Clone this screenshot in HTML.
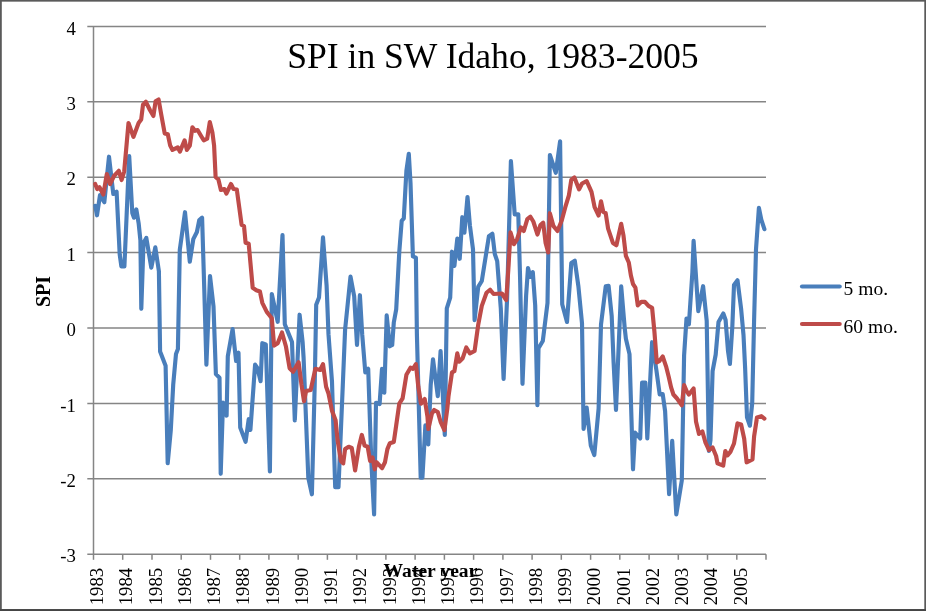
<!DOCTYPE html>
<html><head><meta charset="utf-8"><title>SPI in SW Idaho</title>
<style>
html,body{margin:0;padding:0;background:#fff;}
body{width:926px;height:611px;overflow:hidden;font-family:"Liberation Serif",serif;}
svg{display:block;font-family:"Liberation Serif",serif;}
</style></head><body>
<svg width="926" height="611" viewBox="0 0 926 611">
<defs><filter id="soft" x="0" y="0" width="926" height="611" filterUnits="userSpaceOnUse"><feGaussianBlur stdDeviation="0.45"/></filter></defs>
<rect x="0" y="0" width="926" height="611" fill="#ffffff"/>
<g filter="url(#soft)">
<rect x="0" y="0" width="926" height="611" fill="#ffffff"/>
<g stroke="#858585" stroke-width="1.5" fill="none"><line x1="87.3" y1="26.4" x2="766" y2="26.4"/><line x1="87.3" y1="101.8" x2="766" y2="101.8"/><line x1="87.3" y1="177.2" x2="766" y2="177.2"/><line x1="87.3" y1="252.6" x2="766" y2="252.6"/><line x1="87.3" y1="328.0" x2="766" y2="328.0"/><line x1="87.3" y1="403.4" x2="766" y2="403.4"/><line x1="87.3" y1="478.8" x2="766" y2="478.8"/><line x1="87.3" y1="554.2" x2="766" y2="554.2"/>
<line x1="93.5" y1="26.4" x2="93.5" y2="554.2"/><line x1="93.5" y1="554.2" x2="93.5" y2="559.8"/><line x1="122.7" y1="554.2" x2="122.7" y2="559.8"/><line x1="152.0" y1="554.2" x2="152.0" y2="559.8"/><line x1="181.2" y1="554.2" x2="181.2" y2="559.8"/><line x1="210.5" y1="554.2" x2="210.5" y2="559.8"/><line x1="239.7" y1="554.2" x2="239.7" y2="559.8"/><line x1="268.9" y1="554.2" x2="268.9" y2="559.8"/><line x1="298.2" y1="554.2" x2="298.2" y2="559.8"/><line x1="327.4" y1="554.2" x2="327.4" y2="559.8"/><line x1="356.7" y1="554.2" x2="356.7" y2="559.8"/><line x1="385.9" y1="554.2" x2="385.9" y2="559.8"/><line x1="415.1" y1="554.2" x2="415.1" y2="559.8"/><line x1="444.4" y1="554.2" x2="444.4" y2="559.8"/><line x1="473.6" y1="554.2" x2="473.6" y2="559.8"/><line x1="502.9" y1="554.2" x2="502.9" y2="559.8"/><line x1="532.1" y1="554.2" x2="532.1" y2="559.8"/><line x1="561.3" y1="554.2" x2="561.3" y2="559.8"/><line x1="590.6" y1="554.2" x2="590.6" y2="559.8"/><line x1="619.8" y1="554.2" x2="619.8" y2="559.8"/><line x1="649.1" y1="554.2" x2="649.1" y2="559.8"/><line x1="678.3" y1="554.2" x2="678.3" y2="559.8"/><line x1="707.5" y1="554.2" x2="707.5" y2="559.8"/><line x1="736.8" y1="554.2" x2="736.8" y2="559.8"/><line x1="766.0" y1="554.2" x2="766.0" y2="559.8"/></g>
<g font-size="18.8px" fill="#000"><text x="75.8" y="34.6" text-anchor="end">4</text><text x="75.8" y="110.0" text-anchor="end">3</text><text x="75.8" y="185.4" text-anchor="end">2</text><text x="75.8" y="260.8" text-anchor="end">1</text><text x="75.8" y="336.2" text-anchor="end">0</text><text x="75.8" y="411.6" text-anchor="end">-1</text><text x="75.8" y="487.0" text-anchor="end">-2</text><text x="75.8" y="562.4" text-anchor="end">-3</text><text transform="translate(103.2,605.3) rotate(-90)">1983</text><text transform="translate(132.4,605.3) rotate(-90)">1984</text><text transform="translate(161.7,605.3) rotate(-90)">1985</text><text transform="translate(190.9,605.3) rotate(-90)">1986</text><text transform="translate(220.2,605.3) rotate(-90)">1987</text><text transform="translate(249.4,605.3) rotate(-90)">1988</text><text transform="translate(278.6,605.3) rotate(-90)">1989</text><text transform="translate(307.9,605.3) rotate(-90)">1990</text><text transform="translate(337.1,605.3) rotate(-90)">1991</text><text transform="translate(366.4,605.3) rotate(-90)">1992</text><text transform="translate(395.6,605.3) rotate(-90)">1993</text><text transform="translate(424.8,605.3) rotate(-90)">1994</text><text transform="translate(454.1,605.3) rotate(-90)">1995</text><text transform="translate(483.3,605.3) rotate(-90)">1996</text><text transform="translate(512.6,605.3) rotate(-90)">1997</text><text transform="translate(541.8,605.3) rotate(-90)">1998</text><text transform="translate(571.0,605.3) rotate(-90)">1999</text><text transform="translate(600.3,605.3) rotate(-90)">2000</text><text transform="translate(629.5,605.3) rotate(-90)">2001</text><text transform="translate(658.8,605.3) rotate(-90)">2002</text><text transform="translate(688.0,605.3) rotate(-90)">2003</text><text transform="translate(717.2,605.3) rotate(-90)">2004</text><text transform="translate(746.5,605.3) rotate(-90)">2005</text></g>
<polyline fill="none" stroke="#4a7ebb" stroke-width="4.15" stroke-linejoin="round" stroke-linecap="round" points="95.3,205.8 97,215.3 100,195.1 104.3,202.3 109,156.7 113.3,194 116.6,191.6 119.7,254.5 121.4,266.4 124.4,266.4 129.2,156 132.3,213 134,217.7 136.3,209.4 138.7,223.7 140.4,240.3 141.3,308.8 143.5,243 146.3,237.9 151.3,267.6 155.3,247.4 158.9,271.2 160.1,351.5 165.6,365.8 167.7,463.2 170.8,430 173.2,384.8 176,353.9 177.9,349.1 179.8,249.8 185,212.2 189.8,261.7 193.3,239.1 196.9,232 199.3,220 202.1,217.7 204.3,290 206.4,364.6 210,276 213.5,306.4 215.9,374.1 219.5,377.7 220.7,473.8 223,402.6 226.6,415.6 227.8,356.3 232.6,329 236.1,361 238.5,352.7 240.2,427.5 245.6,441.8 248.7,419.2 250.4,429.9 255.1,364.6 257.5,368.2 260.6,381.2 262.3,343.2 265.8,344.4 267.7,403.8 269.9,471.5 271.8,294 277.7,321.8 282.5,235 284.8,324.2 292,342 294.8,420.4 299.6,314.7 302.6,342 303.6,358 308.3,477.7 311.9,494.3 314.7,385 316.2,304.7 319,297.6 323,237.4 326.6,285.7 328.5,334.4 332,382 335.2,487.2 338.5,487.2 342.8,385 345.1,329.6 350.5,276.6 354.2,296.4 357,345 359.9,295.2 362.2,334.4 365.3,372.4 368.2,368.8 371.3,461 374.1,514.5 376,402.8 379.6,404 382,368.8 384.3,392.6 386.7,315.4 389.8,346.3 392.2,345 393.8,322.5 396.2,309.4 399.3,251.7 401.7,220.8 403.8,218.4 406.4,170.9 408.8,153.8 410.5,182.8 412.9,256.4 415.9,257.6 416.9,334.4 420.7,477.7 422.4,477.7 425.4,425.4 428.3,444.4 430.7,385 433,359.3 437.8,396.2 440.6,351 444.8,434.9 446.8,308.3 450.2,297.6 452,251.7 454.4,265.9 457.3,238.6 459.7,258.8 462.3,217.2 464.4,232.7 467.5,197 469.9,225.5 473,249.3 474.6,320.1 478.2,286.9 481.8,281 488.9,236.2 492.4,233.8 494.8,254 497.2,261.2 500.8,308.3 503.6,379 507.1,298.3 510.9,161 514.7,214.3 518.3,214.3 520,275 522.5,383.8 526.1,295.9 528,268 530.4,276.9 532.8,272.1 535.2,305.4 537.4,405.2 538.5,348.2 542.8,341 547.5,303 549.9,155 555.8,172.8 560.1,141.4 562.2,304.2 567,322 571.3,263 574.8,260.7 578.4,286.4 582,323.2 583.6,429 586.7,407.6 590.8,445.6 594.3,455.1 598.6,408.8 601,324.4 605.7,286.4 608.6,285.9 611.7,316 613.6,362.4 616,410 617.6,372 621.2,286.4 624.7,328 625.9,338.7 629.5,354.1 633,469.3 635,432.5 640.2,438.5 642.1,382.6 645.4,382.6 647.3,438.5 652.1,342.2 656.3,369.5 659.7,394.5 662.7,394 665.1,411.1 669.1,494.2 672.2,440.8 676.3,514.4 681.8,480.5 684.1,355.3 686.5,318.5 688.9,324.4 692.4,272.1 693.6,240.8 698.3,311.2 703.1,286.2 706.7,320.8 708.9,451 710.5,440 712.6,371.1 715.7,354.5 718.5,322 723.3,313.5 725.6,320 728,350.9 729.9,364 732.3,327.1 734,285 737.5,280.3 741.1,308.8 743.5,335 745.1,367.5 747,417.4 749.9,425.7 752.2,403.2 754.1,320 756,249.4 758.9,207.8 761.3,219.7 764.4,229.2"/>
<polyline fill="none" stroke="#be4b48" stroke-width="4.15" stroke-linejoin="round" stroke-linecap="round" points="95.2,184 97.2,189 99.5,187.2 103.3,194.5 106.8,174 110.1,184 114,176 118.8,170.8 121.6,180 124.2,171.5 128.5,123 133.4,136.9 138.6,123 141.2,119.5 143,104.8 145.9,101.8 149.9,110 153.4,116 155.6,101.3 158.6,99.5 161.2,114.3 164.7,133.4 167.8,134.3 170.2,145.6 172.5,149.9 177.7,147.3 179.9,151.6 184.6,140.3 186.9,149.9 189.8,145.6 192.4,127.3 195,130.8 197.6,130 201.1,136 203.7,140.3 207.2,138.6 209.8,122.1 212.4,132.5 214.1,145.6 215.6,177 218.4,179.5 220.9,190 224.3,189 226.4,193.5 231,184 233.5,189 236.8,189.5 239.2,207 241.6,224.8 244,226 245.6,242.7 248.7,243.8 252.7,287.8 256.3,290.2 259.9,291.5 262.3,302.8 267,312.3 271.8,318.3 274.1,345.6 277.7,343.2 282,332.5 286,346.8 289.6,368.2 293.1,371.7 298.6,362.2 301.5,384.8 304,401.3 306.1,391 310.7,390 315.4,368.8 320.2,370 323,364.1 326.1,386.7 328.5,393.5 332,410.8 335.6,420.3 337.5,439.6 340.9,461 343.2,463.4 345.1,449.1 348.7,446.8 351.8,448 355.1,470.5 358.9,446.8 361.8,434.9 364.6,445.6 367.7,446.8 370.1,461 372.5,457.5 374.8,469.3 376.5,462.2 382,468.2 385,462.2 387.4,449.1 389.8,443.2 393.8,442 396.2,425.4 399.3,403.6 402.6,398.3 406.4,374.8 410.5,367.7 412.9,368.8 415.9,364.1 418.3,386.7 421,403.6 424.7,399 427.5,417 428.3,429 431.9,413.5 434.2,410 437.8,412 440.6,421.8 444.4,430.1 447.3,408.8 448.5,396.2 452,372.4 454.4,371.2 457.3,353.4 459.2,361.7 462.7,358.2 466.3,347.5 469.9,353.4 474.6,351 478.2,324.9 481.8,305.9 486.5,292.8 490.1,289.7 493.6,294 501.9,293.5 506.2,300 508.3,269.8 510.5,232.4 514,244.2 517,239.5 520.9,227.4 523.8,231 527.3,219.1 530.4,216.7 533.3,221.5 537.5,234.5 540.4,225 543.2,222.7 545.6,242.9 548.2,252.4 549.9,213.2 553.5,226.2 557.5,231 561.8,220.3 565.3,207.2 568.9,195.3 571.3,179.9 574.4,177.5 579.1,189.4 582,183.5 586.7,181.1 591.5,191.8 594.6,207.2 598.6,215.5 601,201.3 603.3,212 605.7,213.2 608.1,228.6 612.9,242.9 616.4,245.2 621.2,223.8 623.5,235.7 625.9,255.9 628.8,262.5 630.9,275.5 633,284 635.4,287.6 637.8,305.4 641.4,301.8 644.9,301.8 648.5,305.9 652.1,307.8 654.4,331.5 656.8,362.4 659.2,361.2 662.7,356.5 666.3,367.2 668.7,376.7 671.1,387.4 673.4,394.5 677,398.5 681.8,405.2 684.1,385 686.5,390.9 688.9,394.5 693.6,388.4 696,421.4 699,433.9 702.4,431.5 705.5,442.7 709,450 712.6,447.5 716.1,456 717.5,463.3 723.2,465.6 725.3,451 727.5,455.4 730.4,451.9 734,443.5 737.5,423.4 741.1,424.5 744.2,438.8 746.6,462.3 752.5,459.3 754.1,436.4 757,417.4 761.3,416.2 764.4,418.6"/>
<text x="287.2" y="67.8" font-size="35.6px" fill="#000">SPI in SW Idaho, 1983-2005</text>
<text transform="translate(49.6,307.1) rotate(-90)" font-size="20px" font-weight="bold" fill="#000">SPI</text>
<text x="383.6" y="577.2" font-size="19.6px" font-weight="bold" fill="#000">Water year</text>
<line x1="802" y1="286.5" x2="839.7" y2="286.5" stroke="#4a7ebb" stroke-width="4.15" stroke-linecap="round"/>
<text x="843.6" y="295.4" font-size="19.5px" fill="#000">5 mo.</text>
<line x1="802" y1="324" x2="839.7" y2="324" stroke="#be4b48" stroke-width="4.15" stroke-linecap="round"/>
<text x="843.6" y="332.7" font-size="19.5px" fill="#000">60 mo.</text>
</g>
<g fill="none">
<rect x="0.9" y="0.75" width="924.3" height="609.2" stroke="#5a5a5a" stroke-width="1.8"/>
<line x1="0" y1="610.1" x2="926" y2="610.1" stroke="#454545" stroke-width="1.8"/>
</g>
</svg>
</body></html>
